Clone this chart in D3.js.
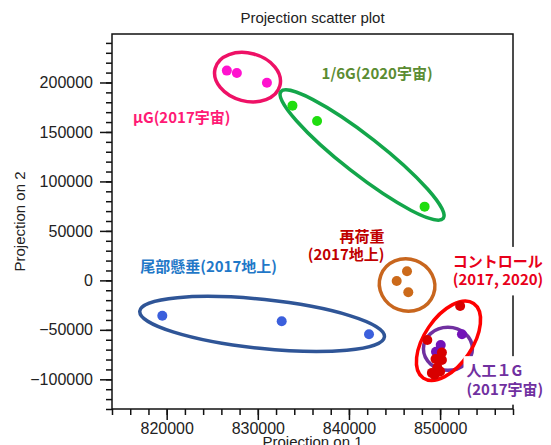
<!DOCTYPE html>
<html>
<head>
<meta charset="utf-8">
<script src="https://cdn.jsdelivr.net/npm/d3@7"></script>
<style>
  body { margin: 0; background: #fff; }
  svg { display: block; }
  .axis text { font-family: "Liberation Sans", Arial, sans-serif; font-size: 16px; fill: #222; }
  .axis path, .axis line { stroke: #111; stroke-width: 1.5; }
  .lbl { font-family: "Noto Sans CJK JP", "Noto Sans", sans-serif; font-weight: bold; font-size: 15px; }
</style>
</head>
<body>
<div id="chart"></div>
<script>
// series values [projection 1, projection 2]
const muG = [[826600, 212000], [827700, 209600], [831000, 199800]];
const sixthG = [[833800, 176600], [836500, 161100], [848300, 74500]];
const reload = [[846370, 9200], [845240, -600], [846510, -12000]];
const hindlimb = [[819520, -35700], [832620, -41300], [842200, -54500]];
const artificial1G = [[852400, -54500], [850070, -65300], [849550, -72100]];
const control = [[852200, -25900], [848600, -60200], [850200, -73000], [850200, -80500],
  [849500, -79500], [849700, -88000], [849100, -93500], [850000, -92000], [849400, -95500]];

const xMajorTicks = [820000, 830000, 840000, 850000];
const yMajorTicks = [-100000, -50000, 0, 50000, 100000, 150000, 200000];

const width = 551;
const height = 445;
const plotLeft = 112, plotRight = 513, plotTop = 34, plotBottom = 409;

const x = d3.scaleLinear().domain([814000, 858000]).range([plotLeft, plotRight]);
const y = d3.scaleLinear().domain([-130000, 249000]).range([plotBottom, plotTop]);

const svg = d3.select("#chart").append("svg")
  .attr("width", width)
  .attr("height", height);

// axes: minor ticks every 2000 / 10000
const xMinor = d3.range(814000, 858001, 2000);
const yMinor = d3.range(-130000, 249000, 10000);

svg.append("g").attr("class", "axis")
  .attr("transform", `translate(0,${plotBottom})`)
  .call(d3.axisBottom(x).tickValues(xMinor).tickSize(6).tickSizeOuter(0).tickFormat(""));
svg.append("g").attr("class", "axis")
  .attr("transform", `translate(0,${plotBottom})`)
  .call(d3.axisBottom(x).tickValues(xMajorTicks).tickSize(11).tickSizeOuter(0).tickPadding(3).tickFormat(d3.format("d")));

svg.append("g").attr("class", "axis")
  .attr("transform", `translate(${plotLeft},0)`)
  .call(d3.axisLeft(y).tickValues(yMinor).tickSize(6).tickSizeOuter(0).tickFormat(""));
svg.append("g").attr("class", "axis")
  .attr("transform", `translate(${plotLeft},0)`)
  .call(d3.axisLeft(y).tickValues(yMajorTicks).tickSize(12).tickSizeOuter(0).tickPadding(7).tickFormat(d3.format("d")));

svg.selectAll(".axis .domain").remove();

svg.append("rect")
  .attr("x", plotLeft).attr("y", plotTop)
  .attr("width", plotRight - plotLeft).attr("height", plotBottom - plotTop)
  .style("fill", "none").style("stroke", "#111").style("stroke-width", 1.5);

svg.append("text")
  .attr("x", (plotLeft + plotRight) / 2).attr("y", 23)
  .attr("text-anchor", "middle")
  .style("font-family", "Liberation Sans, Arial, sans-serif").style("font-size", "15px").style("fill", "#222")
  .text("Projection scatter plot");

svg.append("text")
  .attr("x", (plotLeft + plotRight) / 2).attr("y", 447)
  .attr("text-anchor", "middle")
  .style("font-family", "Liberation Sans, Arial, sans-serif").style("font-size", "15px").style("fill", "#222")
  .text("Projection on 1");

svg.append("text")
  .attr("transform", `translate(25,${(plotTop + plotBottom) / 2}) rotate(-90)`)
  .attr("text-anchor", "middle")
  .style("font-family", "Liberation Sans, Arial, sans-serif").style("font-size", "15px").style("fill", "#222")
  .text("Projection on 2");

// group outlines: centre in data units, radii in px
const outlines = [
  { cx: 828870, cy: 205400, rx: 33.5, ry: 24, angle: 15, color: "#ee1166" },
  { cx: 841440, cy: 126700, rx: 103, ry: 19, angle: 38, color: "#13a64a" },
  { cx: 846380, cy: -4650, rx: 28, ry: 26, angle: 20, color: "#c8661e" },
  { cx: 830470, cy: -44070, rx: 123, ry: 24.5, angle: 6, color: "#2f5597" },
  { cx: 850860, cy: -69230, rx: 24.5, ry: 21.5, angle: 0, color: "#7030a0" },
  { cx: 850920, cy: -61050, rx: 45, ry: 24, angle: -56, color: "#ff0000" }
];

svg.append("g").selectAll("ellipse").data(outlines).enter().append("ellipse")
  .attr("transform", (d) => `translate(${x(d.cx)},${y(d.cy)}) rotate(${d.angle})`)
  .attr("rx", (d) => d.rx)
  .attr("ry", (d) => d.ry)
  .style("fill", "none")
  .style("stroke", (d) => d.color)
  .style("stroke-width", 3.5);

const series = [
  { data: muG, color: "#ff12cf" },
  { data: sixthG, color: "#1fdd0f" },
  { data: reload, color: "#cc6a1a" },
  { data: hindlimb, color: "#3b5fdc" },
  { data: artificial1G, color: "#7212b8" },
  { data: control, color: "#d80000" }
];

series.forEach((s) => {
  svg.append("g").selectAll("circle").data(s.data).enter().append("circle")
    .attr("cx", (d) => x(d[0]))
    .attr("cy", (d) => y(d[1]))
    .attr("r", 5)
    .style("fill", s.color);
});

// labels: anchor in data units
const labels = [
  { lines: ["µG(2017宇宙)"], px: 816300, py: 159100, anchor: "start", color: "#ff1a75", bg: false },
  { lines: ["1/6G(2020宇宙)"], px: 837000, py: 203600, anchor: "start", color: "#5b8c32", bg: false },
  { lines: ["尾部懸垂(2017地上)"], px: 817100, py: 8300, anchor: "start", color: "#1f78c8", bg: false },
  { lines: ["再荷重", "(2017地上)"], px: 843900, py: 39200, anchor: "end", color: "#c00000", bg: false },
  { lines: ["コントロール", "(2017, 2020)"], px: 851400, py: 13600, anchor: "start", color: "#e8001a", bg: true },
  { lines: ["人工１G", "(2017宇宙)"], px: 852900, py: -96800, anchor: "start", color: "#7030a0", bg: true }
];

labels.forEach((l) => {
  const g = svg.append("g");
  const t = g.append("text")
    .attr("class", "lbl")
    .attr("x", x(l.px))
    .attr("y", y(l.py))
    .attr("text-anchor", l.anchor)
    .style("fill", l.color);
  l.lines.forEach((line, i) => {
    t.append("tspan").attr("x", x(l.px)).attr("dy", i === 0 ? 0 : 18.5).text(line);
  });
  if (l.bg) {
    const b = t.node().getBBox();
    g.insert("rect", "text")
      .attr("x", b.x - 3).attr("y", b.y - 3)
      .attr("width", b.width + 6).attr("height", b.height + 9)
      .style("fill", "#fff");
  }
});
</script>
</body>
</html>
